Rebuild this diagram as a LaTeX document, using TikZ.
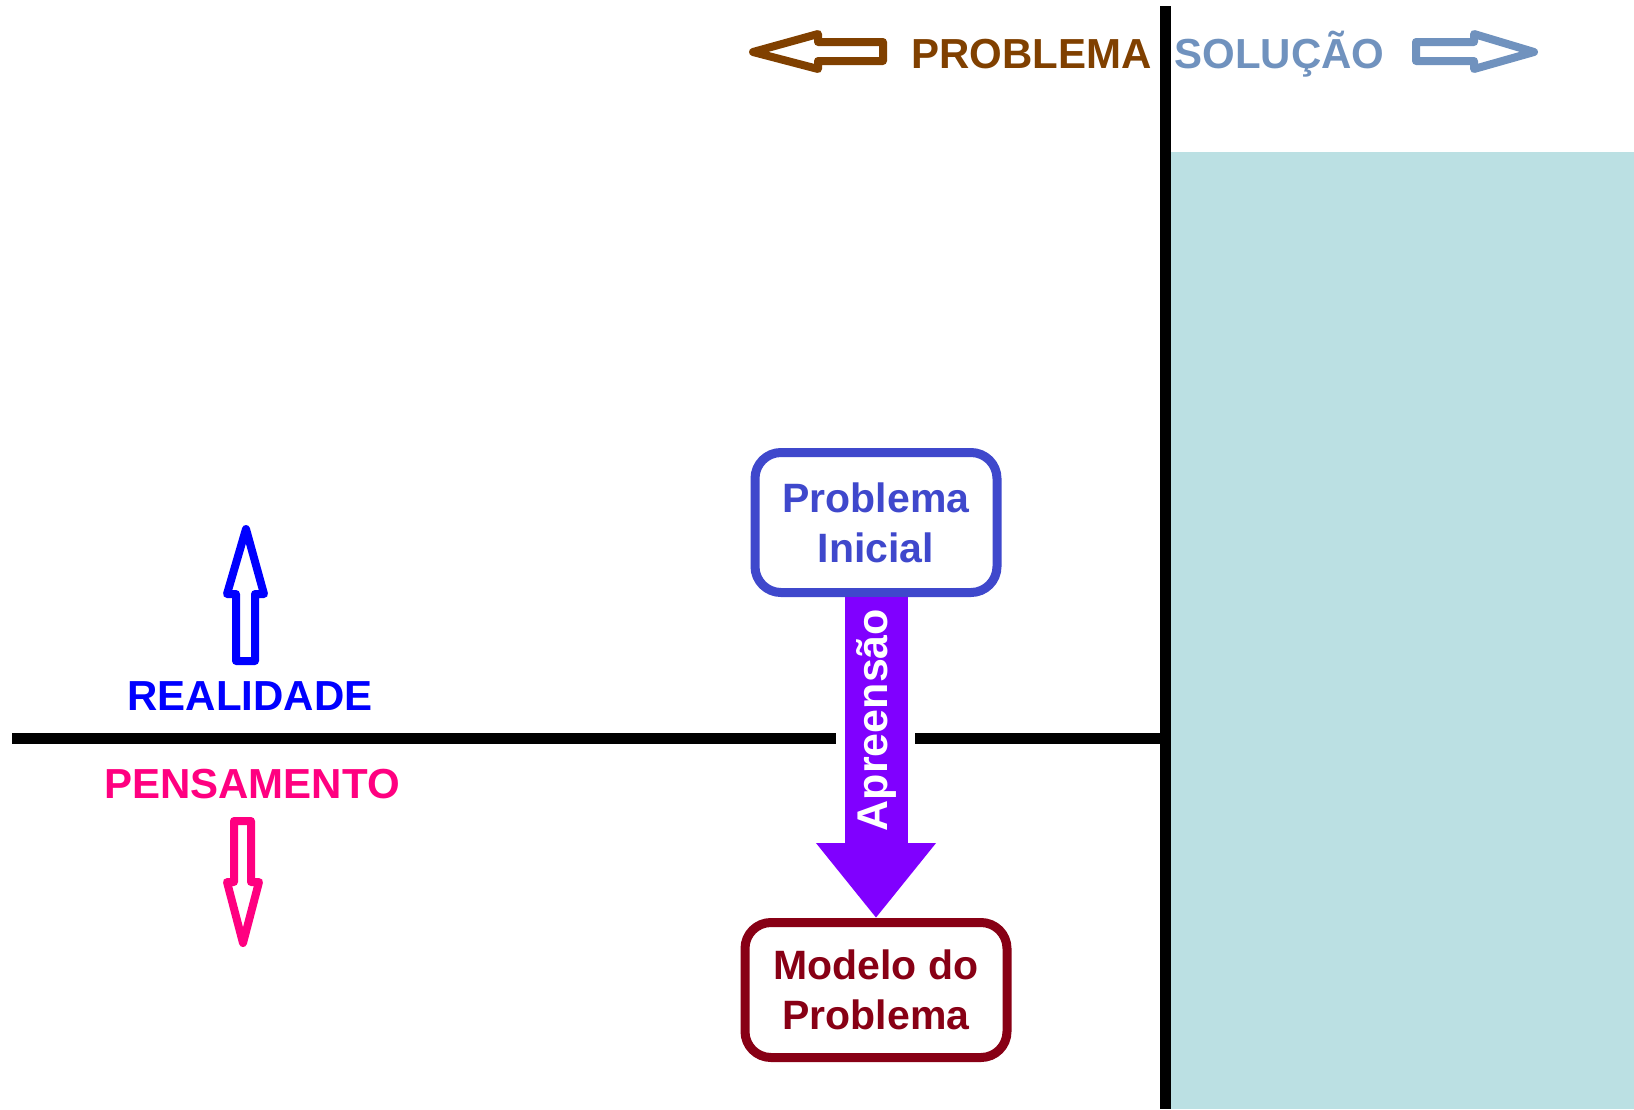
\documentclass[tikz,border=0pt]{standalone}
\usepackage{fontspec}
\setmainfont{Liberation Sans}
\usetikzlibrary{arrows.meta}
\definecolor{probbrown}{HTML}{804000}
\definecolor{solsteel}{HTML}{7092BE}
\definecolor{realblue}{HTML}{0000FF}
\definecolor{pensrose}{HTML}{FF0080}
\definecolor{inicialblue}{HTML}{3F48CC}
\definecolor{modelored}{HTML}{880015}
\definecolor{apreviolet}{HTML}{8000FF}
\definecolor{solteal}{HTML}{BBE0E3}
\tikzstyle{sidetext} = [inner sep=0pt, anchor=base, font=\fontsize{21pt}{25pt}\selectfont\bfseries]
\tikzstyle{stagebox} = [rectangle, rounded corners=13pt, draw, line width=4.5pt, fill=white, inner sep=0pt, align=center, text centered, font=\fontsize{20.5pt}{25pt}\selectfont\bfseries]
\tikzstyle{outline} = [line width=4pt, line join=round]
\tikzstyle{divider} = [line width=5.5pt]
\tikzstyle{bigarrow} = [line width=31.5pt, draw=apreviolet, -{Triangle[width=57.5pt,length=37.5pt]}]

\begin{document}
\begin{tikzpicture}[x=0.5pt,y=-0.5pt]
\useasboundingbox (0,0) rectangle (1634,1109);
\fill[solteal] (1171,152) rectangle (1634,1109);
\coordinate (vtop) at (1165.5,6);
\coordinate (vbot) at (1165.5,1109);
\coordinate (hleft) at (12,738.5);
\coordinate (hgapl) at (836,738.5);
\coordinate (hgapr) at (915,738.5);
\coordinate (hright) at (1165.5,738.5);
\draw [divider] (vtop) -- (vbot);
\draw [divider] (hleft) -- (hgapl);
\draw [divider] (hgapr) -- (hright);
\node (problema) [sidetext, text=probbrown] at (1031.5,68) {PROBLEMA};
\node (solucao) [sidetext, text=solsteel] at (1279.5,68) {SOLUÇÃO};
\node (realidade) [sidetext, text=realblue] at (250,710) {REALIDADE};
\node (pensamento) [sidetext, text=pensrose] at (252,798) {PENSAMENTO};
\draw [outline, draw=probbrown] (753,52) -- (818,34) -- (818,42) -- (883,42) -- (883,61) -- (818,61) -- (818,69) -- cycle;
\draw [outline, draw=solsteel] (1534,52) -- (1474,34) -- (1474,42) -- (1416,42) -- (1416,61) -- (1474,61) -- (1474,69) -- cycle;
\draw [outline, draw=realblue] (246,529) -- (264,594) -- (255,594) -- (255,661) -- (236,661) -- (236,594) -- (227,594) -- cycle;
\draw [outline, draw=pensrose] (243,943) -- (227,882) -- (234,882) -- (234,821) -- (251,821) -- (251,882) -- (259,882) -- cycle;
\node (inicial) [stagebox, draw=inicialblue, text=inicialblue, minimum width=121pt, minimum height=70pt] at (876,522.5) {Problema\\Inicial};
\node (modelo) [stagebox, draw=modelored, text=modelored, minimum width=131pt, minimum height=67.5pt] at (876,990) {Modelo do\\Problema};
\draw [bigarrow] (inicial.south) -- node[pos=0.383, rotate=90, inner sep=0pt, text=white, font=\fontsize{21.5pt}{25pt}\selectfont\bfseries] (apreensao) {Apreensão} (modelo.north);
\end{tikzpicture}
\end{document}
